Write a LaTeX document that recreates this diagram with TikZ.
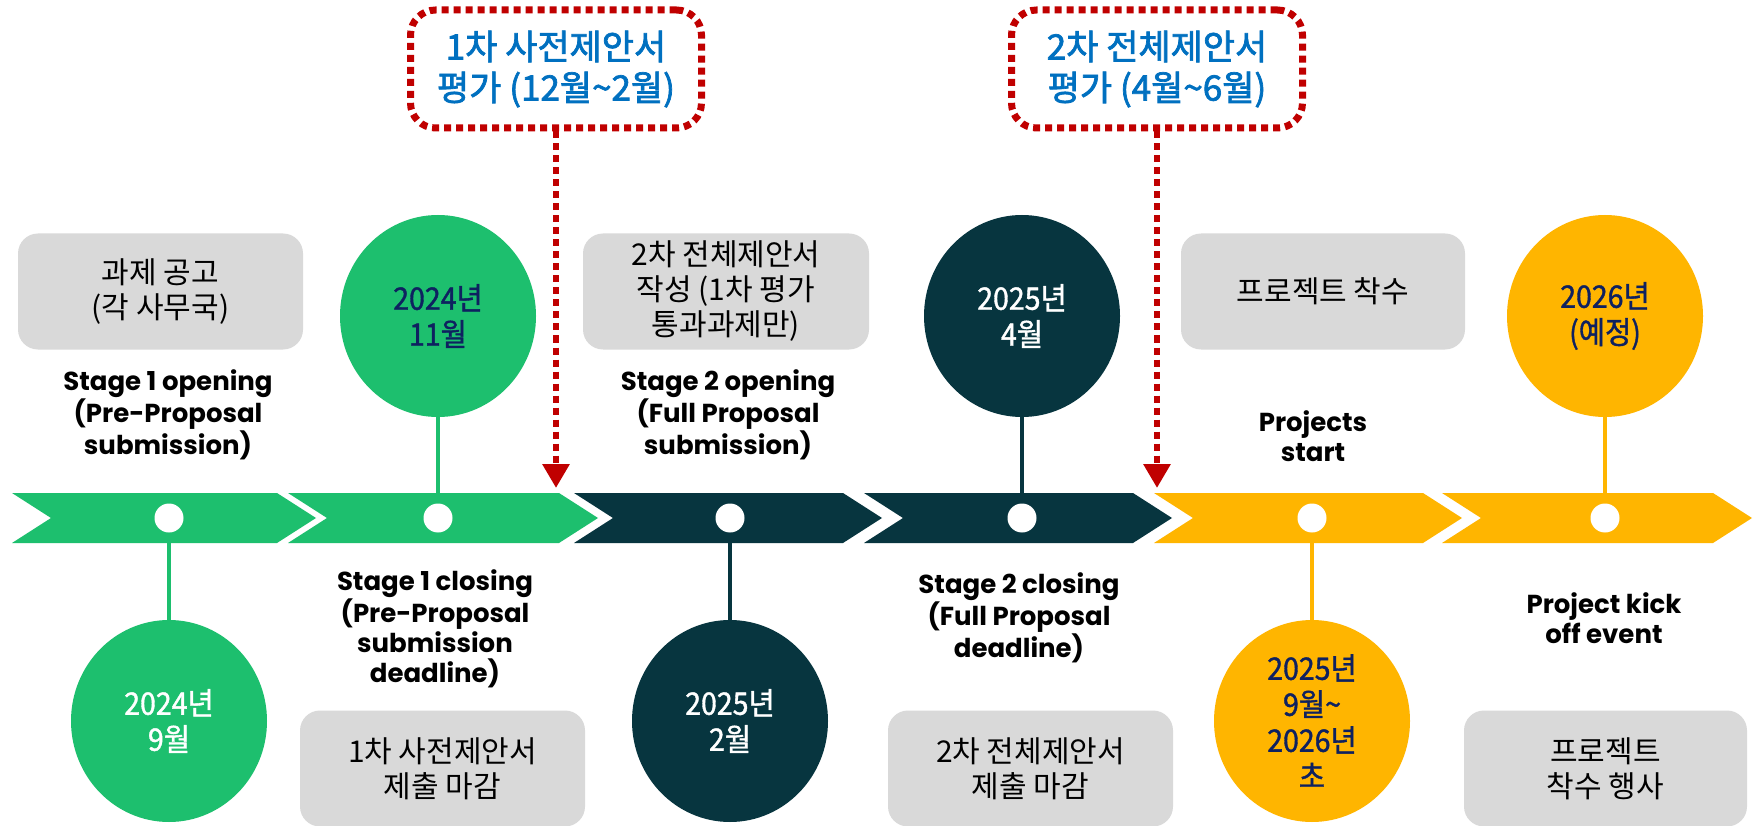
\documentclass[tikz,border=0pt]{standalone}
\usepackage{fontspec}
\usetikzlibrary{shapes.geometric,arrows.meta}
\newfontfamily\krfont{Noto Sans CJK KR}
\newfontfamily\krbold{Noto Sans CJK KR}[FakeBold=2]
\newfontfamily\krnarrow{Noto Sans CJK KR}[FakeStretch=0.92,FakeBold=1.2]
\newfontfamily\enfont{Poppins}
\definecolor{cgreen}{RGB}{29,191,110}
\definecolor{cdark}{RGB}{7,53,63}
\definecolor{cyellow}{RGB}{255,181,0}
\definecolor{cgray}{RGB}{217,217,217}
\definecolor{cred}{RGB}{192,0,0}
\definecolor{cblue}{RGB}{0,112,192}
\definecolor{cnavy}{RGB}{14,33,96}
\tikzset{
  graybox/.style={rectangle, rounded corners=20pt, fill=cgray, minimum height=116pt, inner sep=0pt, align=center, font=\krfont\fontsize{30}{35}\selectfont, text=black},
  bigcirc/.style={ellipse, minimum width=196pt, minimum height=202pt, inner sep=0pt, align=center, font=\krnarrow\fontsize{31}{36}\selectfont},
  whitedot/.style={circle, fill=white, minimum size=29pt, inner sep=0pt},
  lbl/.style={align=center, font=\enfont\bfseries\fontsize{26}{30}\selectfont, text=black},
  evalbox/.style={rectangle, rounded corners=25pt, draw=cred, line width=7pt, dash pattern=on 7pt off 5pt, minimum width=291pt, minimum height=118pt, align=center, font=\krbold\fontsize{35}{41}\selectfont, text=cblue},
  evalarrow/.style={draw=cred, line width=6pt, dash pattern=on 7pt off 5pt, -{Triangle[width=26pt,length=24pt]}},
  stem/.style={line width=4.5pt}
}
\newcommand\chevshape[3]{\fill[#3] (#1,493) -- (#2,493) -- (#2+39,518) -- (#2,543) -- (#1,543) -- (#1+39,518) -- cycle;}
\begin{document}
\begin{tikzpicture}[x=1pt,y=-1pt]
\useasboundingbox (0,0) rectangle (1759,826);
\fill[white] (0,0) rectangle (1759,826);
% chevrons
\chevshape{12}{277}{cgreen}
\chevshape{288}{559}{cgreen}
\chevshape{574}{843}{cdark}
\chevshape{864}{1133}{cdark}
\chevshape{1154}{1423}{cyellow}
\chevshape{1442}{1713}{cyellow}
% dots
\node[whitedot] (d1) at (169,518) {};
\node[whitedot] (d2) at (438,518) {};
\node[whitedot] (d3) at (730,518) {};
\node[whitedot] (d4) at (1022,518) {};
\node[whitedot] (d5) at (1312,518) {};
\node[whitedot] (d6) at (1605,518) {};
% big circles
\node[bigcirc, fill=cgreen, text=white] (b1) at (169,721) {2024년\\9월};
\node[bigcirc, fill=cgreen, text=cnavy] (b2) at (438,316) {2024년\\11월};
\node[bigcirc, fill=cdark, text=white] (b3) at (730,721) {2025년\\2월};
\node[bigcirc, fill=cdark, text=white] (b4) at (1022,316) {2025년\\4월};
\node[bigcirc, fill=cyellow, text=cnavy] (b5) at (1312,721) {2025년\\9월\textasciitilde\\2026년\\초};
\node[bigcirc, fill=cyellow, text=cnavy] (b6) at (1605,316) {2026년\\(예정)};
% stems
\draw[stem, cgreen] (d1.south) -- (b1.north);
\draw[stem, cgreen] (d2.north) -- (b2.south);
\draw[stem, cdark] (d3.south) -- (b3.north);
\draw[stem, cdark] (d4.north) -- (b4.south);
\draw[stem, cyellow] (d5.south) -- (b5.north);
\draw[stem, cyellow] (d6.north) -- (b6.south);
% gray boxes
\node[graybox, minimum width=285pt] (g1) at (160.5,291.5) {과제 공고\\(각 사무국)};
\node[graybox, minimum width=286pt] (g2) at (726,291.5) {2차 전체제안서\\작성 (1차 평가\\통과과제만)};
\node[graybox, minimum width=284pt] (g3) at (1323,291.5) {프로젝트 착수};
\node[graybox, minimum width=285pt] (g4) at (442.5,768.5) {1차 사전제안서\\제출 마감};
\node[graybox, minimum width=285pt] (g5) at (1030.5,768.5) {2차 전체제안서\\제출 마감};
\node[graybox, minimum width=283pt] (g6) at (1605.5,768.5) {프로젝트\\착수 행사};
% english labels
\node[lbl] (l1) at (168,415) {Stage 1 opening\\(Pre-Proposal\\submission)};
\node[lbl] (l2) at (435,629) {Stage 1 closing\\(Pre-Proposal\\submission\\deadline)};
\node[lbl] (l3) at (728,415) {Stage 2 opening\\(Full Proposal\\submission)};
\node[lbl] (l4) at (1019,618) {Stage 2 closing\\(Full Proposal\\deadline)};
\node[lbl] (l5) at (1313,436) {Projects\\start};
\node[lbl] (l6) at (1604,618) {Project kick\\off event};
% evaluation boxes
\node[evalbox] (e1) at (556,69) {1차 사전제안서\\평가 (12월\textasciitilde 2월)};
\node[evalbox] (e2) at (1157,69) {2차 전체제안서\\평가 (4월\textasciitilde 6월)};
\coordinate (t1) at (556,488);
\coordinate (t2) at (1157,488);
\draw[evalarrow] (e1.south) -- (t1);
\draw[evalarrow] (e2.south) -- (t2);
\end{tikzpicture}
\end{document}
